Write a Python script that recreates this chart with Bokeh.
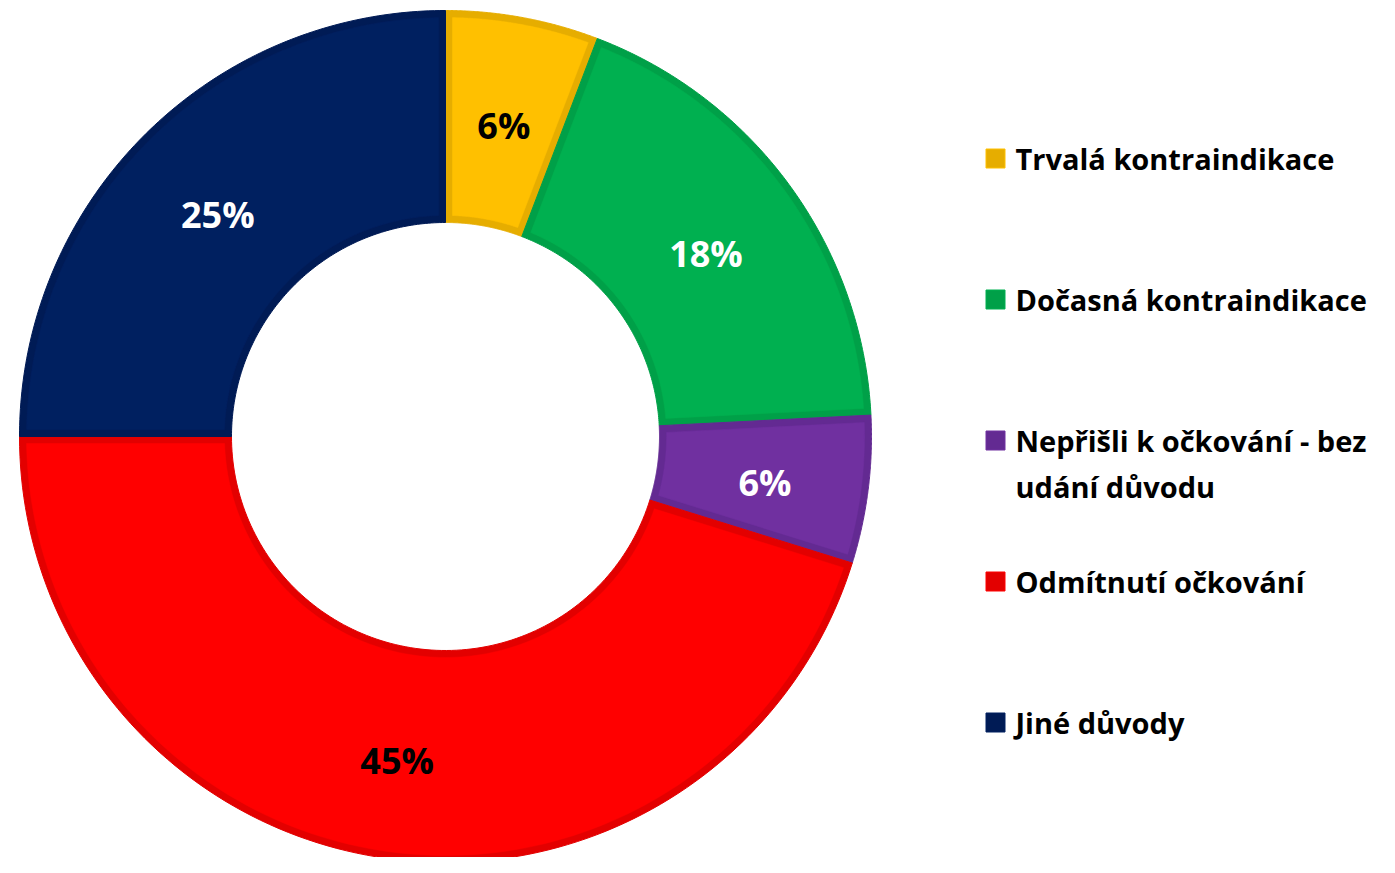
import numpy as np
from bokeh.plotting import figure
from bokeh.models import Range1d, ColumnDataSource
from bokeh.core.properties import value
from bokeh.embed import file_html
from bokeh.resources import INLINE

# ---- data ----
categories = ["Trvalá kontraindikace", "Dočasná kontraindikace",
              "Nepřišli k očkování - bez\nudání důvodu", "Odmítnutí očkování", "Jiné důvody"]
shares = [5.8, 18.4, 5.6, 45.2, 25.0]
fill_colors = ["#FFC000", "#00B050", "#7030A0", "#FF0000", "#002060"]
border_colors = ["#E6AD00", "#00A048", "#632A92", "#E30000", "#001B55"]
label_colors = ["#000000", "#FFFFFF", "#FFFFFF", "#000000", "#FFFFFF"]

# ---- layout (1 data unit = 1 px; y up) ----
W, H = 1379, 857
TOP = 873
cx, cy = 445, TOP - 436
R, r = 426, 214
d = 7  # border inset

p = figure(width=W, height=H, output_backend="svg", toolbar_location=None,
           x_range=Range1d(0, W), y_range=Range1d(TOP - H, TOP),
           min_border=0, outline_line_color=None)
p.axis.visible = False
p.grid.visible = False
p.background_fill_color = "white"
p.border_fill_color = "white"

total = sum(shares)
cum = np.cumsum([0] + shares) / total * 2 * np.pi  # clockwise from top


def arc(rad, t0, t1, n=120):
    t = np.linspace(t0, t1, n)
    return cx + rad * np.sin(t), cy + rad * np.cos(t)


outer_xs, outer_ys, inner_xs, inner_ys = [], [], [], []
for i in range(len(shares)):
    t0, t1 = cum[i], cum[i + 1]
    ox, oy = arc(R, t0, t1)
    ix, iy = arc(r, t1, t0)
    outer_xs.append(np.concatenate([ox, ix]))
    outer_ys.append(np.concatenate([oy, iy]))
    ro, ri = R - d, r + d
    ao, ai = np.arcsin(d / ro), np.arcsin(d / ri)
    ox2, oy2 = arc(ro, t0 + ao, t1 - ao)
    ix2, iy2 = arc(ri, t1 - ai, t0 + ai)
    inner_xs.append(np.concatenate([ox2, ix2]))
    inner_ys.append(np.concatenate([oy2, iy2]))

p.patches(outer_xs, outer_ys, fill_color=border_colors, line_color=border_colors, line_width=1)
p.patches(inner_xs, inner_ys, fill_color=fill_colors, line_color=fill_colors, line_width=0.5)

# percentage labels
mid = (cum[:-1] + cum[1:]) / 2
lr = 322
lab_src = ColumnDataSource(dict(
    x=cx + lr * np.sin(mid), y=cy + lr * np.cos(mid),
    t=[f"{round(s / total * 100)}%" for s in shares], c=label_colors))
p.text("x", "y", text="t", source=lab_src, text_color="c",
       text_font=value("Open Sans"), text_font_style="bold", text_font_size="36px",
       text_align="center", text_baseline="middle", y_offset=6)

# legend (manual)
leg_x = 995
leg_y0 = TOP - 158
step = 141
sq_y = [leg_y0 - i * step for i in range(len(categories))]
p.rect(x=[leg_x] * len(categories), y=sq_y, width=19, height=19,
       fill_color=border_colors, line_color=fill_colors, line_width=1)
tx, ty, tt = [], [], []
for i, cat in enumerate(categories):
    for j, line in enumerate(cat.split("\n")):
        tx.append(1015)
        ty.append(sq_y[i] - j * 46)
        tt.append(line)
p.text(x=tx, y=ty, text=tt, text_color="#000000",
       text_font=value("Open Sans"), text_font_style="bold", text_font_size="29px",
       text_align="left", text_baseline="middle")

open("out.html", "w").write(file_html(p, INLINE))
